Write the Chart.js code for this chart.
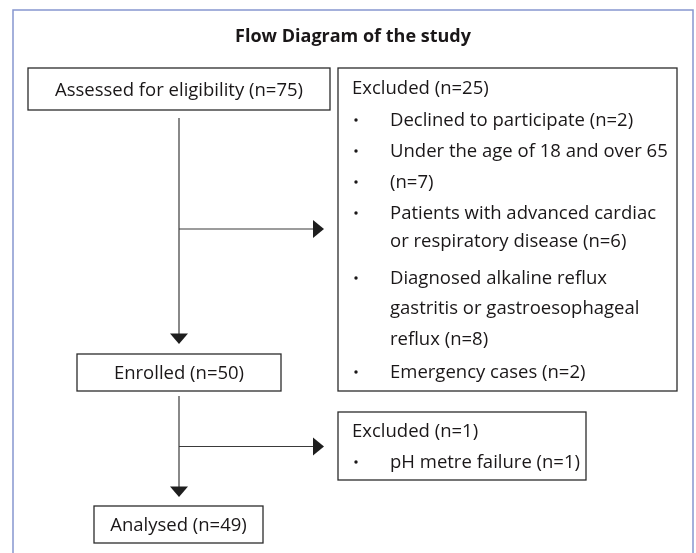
<!DOCTYPE html>
<html>
<head>
<meta charset="utf-8">
<script src="https://cdn.jsdelivr.net/npm/chart.js@4.4.1/dist/chart.umd.min.js"></script>
<style>
  html, body { margin: 0; padding: 0; background: #fff; }
  canvas { display: block; }
</style>
</head>
<body>
<canvas id="flow" width="696" height="553"></canvas>
<script>
// --- data ---
const chartTitle = 'Flow Diagram of the study';
const stageLabels = ['Assessed for eligibility', 'Enrolled', 'Analysed'];
const stageCounts = [75, 50, 49];
const exclusionLabels = ['Excluded', 'Excluded'];
const exclusionCounts = [25, 1];
// each reason is one bullet, split in the lines shown in the box
const screeningReasons = [
  ['Declined to participate (n=2)'],
  ['Under the age of 18 and over 65'],
  ['(n=7)'],
  ['Patients with advanced cardiac', 'or respiratory disease (n=6)'],
  ['Diagnosed alkaline reflux', 'gastritis or gastroesophageal', 'reflux (n=8)'],
  ['Emergency cases (n=2)']
];
const enrolmentReasons = [
  ['pH metre failure (n=1)']
];

// --- layout, in the axis units of the (hidden) scales ---
const frame = { left: 13, top: 10, right: 693 };
const titlePos = { x: 353, y: 42 };
const stageBoxes = [
  { x0: 28, y0: 68, x1: 330, y1: 110, base: 96 },
  { x0: 77, y0: 354, x1: 281, y1: 391, base: 379 },
  { x0: 94, y0: 506, x1: 263, y1: 543, base: 531 }
];
const exclusionBoxes = [
  { x0: 338, y0: 68, x1: 677, y1: 391, head: 94,
    lines: [126, 157, 188, 219, 247, 284, 314, 345, 378] },
  { x0: 338, y0: 412, x1: 586, y1: 480, head: 437, lines: [468] }
];
const spineX = 179;
const downArrows = [{ from: 118, to: 344 }, { from: 396, to: 497 }];
const branchY = [229, 446.5];
const branchEnd = 324;
const textLeft = 352, bulletX = 356, bulletText = 390;

const FONT = '"Open Sans", "Noto Sans", sans-serif';

const flowPlugin = {
  id: 'flow',
  afterDraw(chart) {
    const { ctx } = chart;
    const sx = chart.scales.x, sy = chart.scales.y;
    const px = v => sx.getPixelForValue(v);
    const py = v => sy.getPixelForValue(v);

    ctx.save();

    // outer frame (no bottom edge, it runs off the picture)
    ctx.strokeStyle = '#8797cf';
    ctx.lineWidth = 1.5;
    ctx.beginPath();
    ctx.moveTo(px(frame.left), py(553));
    ctx.lineTo(px(frame.left), py(frame.top));
    ctx.lineTo(px(frame.right), py(frame.top));
    ctx.lineTo(px(frame.right), py(553));
    ctx.stroke();

    // title
    ctx.fillStyle = '#1a1718';
    ctx.font = 'bold 18px ' + FONT;
    ctx.textAlign = 'center';
    ctx.textBaseline = 'alphabetic';
    ctx.fillText(chartTitle, px(titlePos.x), py(titlePos.y));

    const box = b => {
      ctx.strokeStyle = '#2b2b2b';
      ctx.lineWidth = 1.3;
      ctx.strokeRect(px(b.x0), py(b.y0), px(b.x1) - px(b.x0), py(b.y1) - py(b.y0));
    };

    // stage boxes
    ctx.font = '18.5px ' + FONT;
    stageBoxes.forEach((b, i) => {
      box(b);
      ctx.fillStyle = '#1a1718';
      ctx.textAlign = 'center';
      ctx.fillText(`${stageLabels[i]} (n=${stageCounts[i]})`, px((b.x0 + b.x1) / 2), py(b.base));
    });

    // exclusion boxes
    const reasonSets = [screeningReasons, enrolmentReasons];
    exclusionBoxes.forEach((b, i) => {
      box(b);
      ctx.fillStyle = '#1a1718';
      ctx.textAlign = 'left';
      ctx.font = '18.5px ' + FONT;
      ctx.fillText(`${exclusionLabels[i]} (n=${exclusionCounts[i]})`, px(textLeft), py(b.head));
      let k = 0;
      reasonSets[i].forEach(reason => {
        reason.forEach((line, j) => {
          const base = b.lines[k++];
          if (j === 0) {
            ctx.beginPath();
            ctx.arc(px(bulletX), py(base - 6), 1.7, 0, Math.PI * 2);
            ctx.fill();
          }
          ctx.fillText(line, px(bulletText), py(base));
        });
      });
    });

    // connectors
    ctx.strokeStyle = '#3a3a3a';
    ctx.fillStyle = '#1e1e1e';
    ctx.lineWidth = 1.2;
    downArrows.forEach(a => {
      ctx.beginPath();
      ctx.moveTo(px(spineX), py(a.from));
      ctx.lineTo(px(spineX), py(a.to - 10));
      ctx.stroke();
      ctx.beginPath();
      ctx.moveTo(px(spineX - 9), py(a.to - 10.5));
      ctx.lineTo(px(spineX + 9), py(a.to - 10.5));
      ctx.lineTo(px(spineX), py(a.to));
      ctx.closePath();
      ctx.fill();
    });
    branchY.forEach(yv => {
      ctx.beginPath();
      ctx.moveTo(px(spineX), py(yv));
      ctx.lineTo(px(branchEnd - 11), py(yv));
      ctx.stroke();
      ctx.beginPath();
      ctx.moveTo(px(branchEnd - 11), py(yv - 9));
      ctx.lineTo(px(branchEnd - 11), py(yv + 9));
      ctx.lineTo(px(branchEnd), py(yv));
      ctx.closePath();
      ctx.fill();
    });

    ctx.restore();
  }
};

new Chart(document.getElementById('flow'), {
  type: 'scatter',
  data: { datasets: [{ data: [], pointRadius: 0 }] },
  options: {
    responsive: false,
    devicePixelRatio: 1,
    animation: false,
    layout: { padding: 0 },
    plugins: { legend: { display: false }, tooltip: { enabled: false } },
    scales: {
      x: { type: 'linear', min: 0, max: 696, display: false },
      y: { type: 'linear', min: 0, max: 553, reverse: true, display: false }
    }
  },
  plugins: [flowPlugin]
});
</script>
</body>
</html>
